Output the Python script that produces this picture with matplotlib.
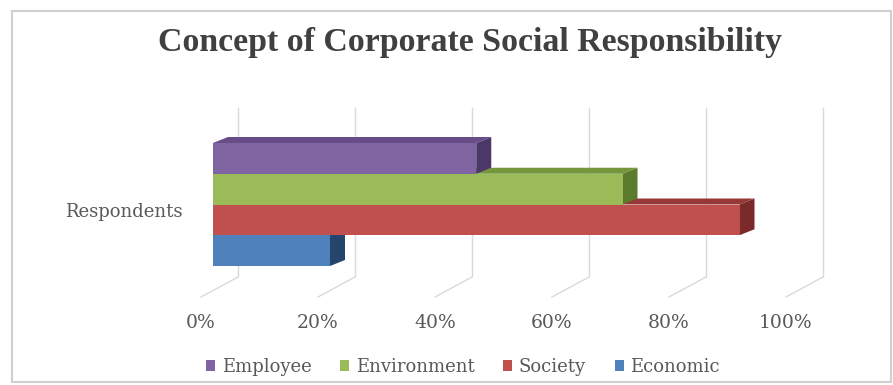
import matplotlib
matplotlib.use("Agg")
import matplotlib.pyplot as plt
from matplotlib.patches import Polygon, Rectangle, Patch

# ---- data -------------------------------------------------------------
category = "Respondents"
series_names = ["Employee", "Environment", "Society", "Economic"]
series_values = [45, 70, 90, 20]          # percent of respondents
tick_values = [0, 20, 40, 60, 80, 100]
tick_labels = ["0%", "20%", "40%", "60%", "80%", "100%"]
title = "Concept of Corporate Social Responsibility"

# ---- styling ----------------------------------------------------------
front_colors = ["#8064A2", "#9BBB59", "#C0504D", "#4F81BD"]
top_colors = ["#664D88", "#76963E", "#963936", "#36618F"]
side_colors = ["#4B3868", "#5A7A2C", "#7A2B29", "#25456C"]
grid_color = "#D9D9D9"
text_color = "#595959"

W, H = 893, 385
fig = plt.figure(figsize=(W / 100, H / 100), dpi=100)
fig.patch.set_facecolor("white")

# chart frame
fig.add_artist(Rectangle((12 / W, 1 - 382 / H), (891 - 12) / W, (382 - 11) / H,
                         transform=fig.transFigure, fill=False,
                         edgecolor="#D0D0D0", linewidth=1.5))

# plotting box (pixel geometry of the value scale)
x0_px, x100_px = 213, 798
ytop_px, ybot_px = 107, 300
bar_top_px, bar_bot_px = 143, 266
ax = fig.add_axes([x0_px / W, 1 - ybot_px / H,
                   (x100_px - x0_px) / W, (ybot_px - ytop_px) / H])

n = len(series_values)
positions = list(range(n - 1, -1, -1))    # first series drawn on top
bar_px = (bar_bot_px - bar_top_px) / n
ylo = -0.5 - (ybot_px - bar_bot_px) / bar_px
yhi = (n - 0.5) + (bar_top_px - ytop_px) / bar_px
ax.set_xlim(0, 100)
ax.set_ylim(ylo, yhi)
ax.axis("off")

xs = (x100_px - x0_px) / 100.0            # pixels per percent
ys = bar_px                                # pixels per category slot


def ydata(px):
    return yhi - (px - ytop_px) / ys


# back wall and floor gridlines
wall_dx = 25 / xs
floor_dx = -37 / xs
floor_back_y = ydata(277)
floor_front_y = ydata(297)
for v in tick_values:
    ax.plot([v + wall_dx, v + wall_dx], [floor_back_y, yhi],
            color=grid_color, lw=1.0, zorder=1, solid_capstyle="butt",
            clip_on=False)
    ax.plot([v + wall_dx, v + floor_dx + wall_dx], [floor_back_y, floor_front_y],
            color=grid_color, lw=1.0, zorder=1, clip_on=False)

# 3D bars: draw bottom to top so upper fronts hide lower tops
ddx = 15 / xs
ddy = 6 / ys
order = sorted(range(n), key=lambda i: positions[i])
for k, i in enumerate(order):
    v = series_values[i]
    p = positions[i]
    z = 3 + 3 * k
    bottom, top = p - 0.5, p + 0.5
    side = Polygon([(v, bottom), (v + ddx, bottom + ddy),
                    (v + ddx, top + ddy), (v, top)],
                   closed=True, facecolor=side_colors[i], edgecolor="none",
                   zorder=z, clip_on=False)
    topf = Polygon([(0, top), (ddx, top + ddy), (v + ddx, top + ddy), (v, top)],
                   closed=True, facecolor=top_colors[i], edgecolor="none",
                   zorder=z + 1, clip_on=False)
    ax.add_patch(side)
    ax.add_patch(topf)
    ax.barh(p, v, height=1.0, left=0, color=front_colors[i],
            edgecolor="none", zorder=z + 2)

# category label
fig.text(183 / W, 1 - 212 / H, category, ha="right", va="center",
         fontsize=13, family="DejaVu Serif", color=text_color)

# value tick labels along the front edge of the floor
for v, lab in zip(tick_values, tick_labels):
    ax.text(v + floor_dx + wall_dx, ydata(323), lab, ha="center", va="center",
            fontsize=13.5, family="DejaVu Serif", color=text_color,
            clip_on=False)

# title
fig.text(470 / W, 1 - 42 / H, title, ha="center", va="center",
         fontsize=24.4, fontweight="bold", family="Liberation Serif",
         color="#404040")

# legend
handles = [Patch(facecolor=c, edgecolor="none") for c in front_colors]
leg = fig.legend(handles, series_names, loc="center",
                 bbox_to_anchor=(463 / W, 1 - 367 / H), ncol=4, frameon=False,
                 handlelength=0.5, handleheight=0.5, handletextpad=0.35,
                 columnspacing=1.6,
                 prop={"family": "DejaVu Serif", "size": 13})
for t in leg.get_texts():
    t.set_color(text_color)

fig.savefig("out.png", dpi=100, facecolor="white")
